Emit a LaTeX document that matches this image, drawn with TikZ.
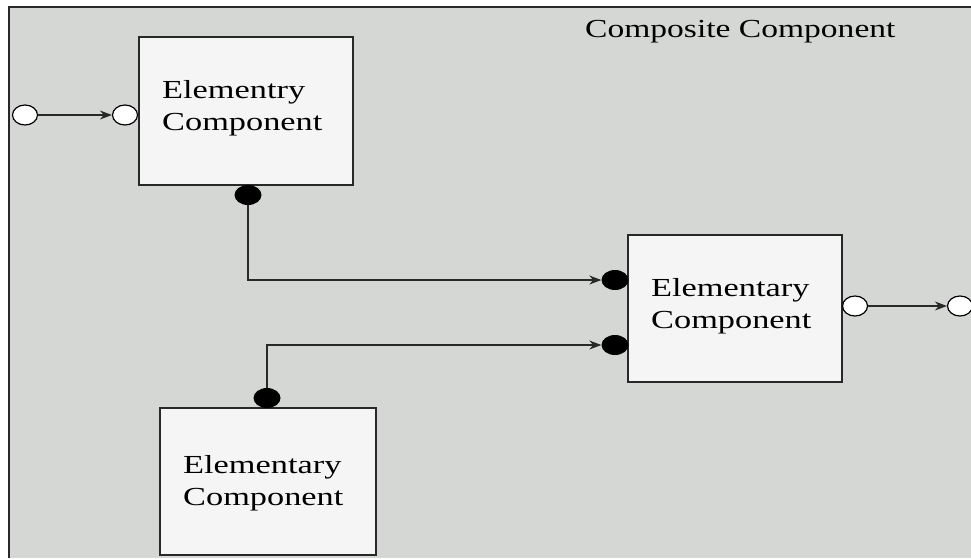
\documentclass[tikz,border=0pt]{standalone}
\usepackage{fontspec}
\setmainfont{Liberation Serif}
\usetikzlibrary{arrows.meta,shapes.geometric}
\definecolor{bggray}{RGB}{213,215,213}
\definecolor{boxfill}{RGB}{244,245,244}
\definecolor{linegray}{RGB}{40,40,40}
\newcommand{\lbltwo}[2]{\scalebox{1.32}[1]{\begin{tabular}[t]{@{}l@{}}#1\\#2\end{tabular}}}
\tikzset{
  compbox/.style={draw=linegray, line width=1.4pt, fill=boxfill},
  portopen/.style={ellipse, draw=black, line width=1.2pt, fill=white, minimum width=25pt, minimum height=20pt, inner sep=0pt},
  portfull/.style={ellipse, fill=black, minimum width=27pt, minimum height=20pt, inner sep=0pt},
  lbl/.style={anchor=base west, inner sep=0pt, font=\fontsize{26}{32}\selectfont},
  conn/.style={draw=linegray, line width=1.1pt, -{Stealth[length=12pt,width=9pt]}},
}
\begin{document}
\begin{tikzpicture}[x=1pt,y=-1pt]
\useasboundingbox (0,0) rectangle (971,558);
\fill[white] (0,0) rectangle (971,558);
\fill[bggray] (9,7) rectangle (971,558);
\draw[linegray, line width=1.3pt] (9,558) -- (9,7) -- (971,7);
% title
\node[lbl] (title) at (585,37) {\scalebox{1.29}[1]{Composite Component}};
% boxes
\node[compbox, minimum width=214pt, minimum height=148pt, inner sep=0pt] (b1) at (246,111) {};
\node[compbox, minimum width=214pt, minimum height=147pt, inner sep=0pt] (b2) at (735,308.5) {};
\node[compbox, minimum width=216pt, minimum height=147pt, inner sep=0pt] (b3) at (268,481.5) {};
\node[lbl] (t1) at (162,98) {\lbltwo{Elementry}{Component}};
\node[lbl] (t2) at (651,296) {\lbltwo{Elementary}{Component}};
\node[lbl] (t3) at (183,473) {\lbltwo{Elementary}{Component}};
% ports
\node[portopen] (inL) at (25,115) {};
\node[portopen] (inR) at (125,115) {};
\node[portfull] (d1) at (248,195) {};
\node[portfull] (d2) at (615,280) {};
\node[portfull] (d3) at (615,345) {};
\node[portfull] (d4) at (267,398) {};
\node[portopen] (o1) at (855,306) {};
\node[portopen] (o2) at (960,306) {};
% connectors
\coordinate (c1) at (248,280);
\coordinate (c2) at (267,345);
\draw[conn] (inL.east) -- (inR.west);
\draw[conn] (d1.south) -- (c1) -- (d2.west);
\draw[conn] (d4.north) -- (c2) -- (d3.west);
\draw[conn] (o1.east) -- (o2.west);
\end{tikzpicture}
\end{document}
